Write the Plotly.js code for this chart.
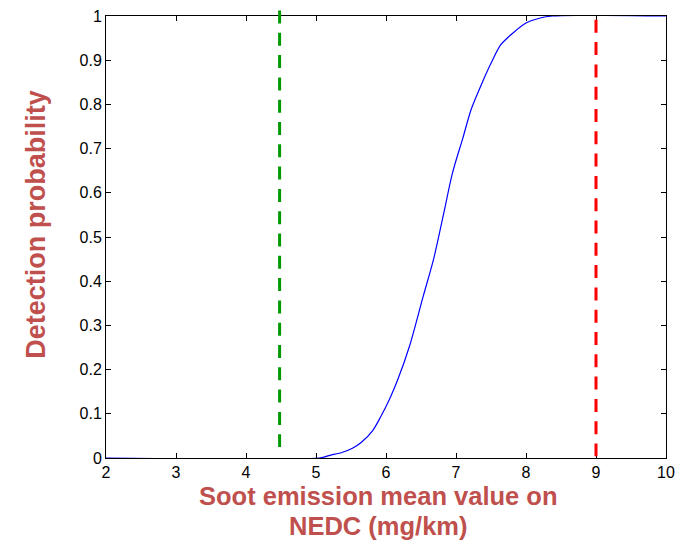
<!DOCTYPE html>
<html>
<head>
<meta charset="utf-8">
<script src="https://cdn.plot.ly/plotly-3.0.1.min.js"></script>
<style>html,body{margin:0;padding:0;background:#fff;}#chart{width:681px;height:540px;}</style>
</head>
<body>
<div id="chart"></div>
<script>
// Detection probability curve
const sootX = [2, 5.05, 5.2, 5.38, 5.52, 5.645, 5.81, 5.93, 6.05, 6.17, 6.34, 6.53, 6.68, 6.82, 6.95, 7.10, 7.215, 7.36, 7.50, 7.64, 7.81, 8.0, 8.19, 8.38, 10];
const detProb = [0, 0, 0.006, 0.013, 0.022, 0.035, 0.062, 0.095, 0.133, 0.178, 0.255, 0.365, 0.45, 0.55, 0.645, 0.725, 0.788, 0.844, 0.893, 0.935, 0.961, 0.984, 0.995, 1.0, 1.0];
// Vertical dashed reference lines
const refX = [4.48, 9];
const refColors = ["#009900", "#ff0000"];
const refTop = [1.0124, 0.9914];
const refBottom = [0.025, 0.004];
// Axis ticks
const xTicks = [2, 3, 4, 5, 6, 7, 8, 9, 10];
const yTicks = [0, 0.1, 0.2, 0.3, 0.4, 0.5, 0.6, 0.7, 0.8, 0.9, 1];
const yTickText = ["0", "0.1", "0.2", "0.3", "0.4", "0.5", "0.6", "0.7", "0.8", "0.9", "1"];
const xTitleLines = ["Soot emission mean value on", "NEDC (mg/km)"];
const yTitle = "Detection probability";

const traces = [{
  x: sootX, y: detProb, type: "scatter", mode: "lines",
  line: {color: "#0000ff", width: 1.2, shape: "spline", smoothing: 0.8},
  hoverinfo: "skip"
}];

const shapes = refX.map((xv, i) => ({
  type: "line", xref: "x", yref: "paper",
  x0: xv, x1: xv, y0: refTop[i], y1: refBottom[i],
  line: {color: refColors[i], width: 3, dash: "13px,9.3px"}
}));

const axisFont = {family: "'Liberation Sans', Arial, sans-serif", size: 16, color: "#000"};
const titleFont = {family: "'Liberation Sans', Arial, sans-serif", size: 25.5, color: "#c0504d", weight: "bold"};
const layout = {
  width: 681, height: 540,
  margin: {l: 106, r: 15, t: 15.5, b: 81.5},
  paper_bgcolor: "#fff", plot_bgcolor: "#fff",
  showlegend: false,
  xaxis: {
    range: [2, 10], tickvals: xTicks, ticktext: xTicks.map(String),
    ticks: "inside", ticklen: 5, tickcolor: "#000", tickwidth: 1,
    showline: true, linecolor: "#000", linewidth: 1, mirror: "allticks",
    showgrid: false, zeroline: false, tickfont: axisFont
  },
  yaxis: {
    range: [0, 1], tickvals: yTicks, ticktext: yTickText,
    ticks: "inside", ticklen: 5, tickcolor: "#000", tickwidth: 1,
    showline: true, linecolor: "#000", linewidth: 1, mirror: "allticks",
    showgrid: false, zeroline: false, tickfont: axisFont
  },
  shapes: shapes,
  annotations: [
    {text: xTitleLines[0], xref: "paper", yref: "paper", x: 0.4866, y: -0.0869, xanchor: "center", yanchor: "middle",
     showarrow: false, font: titleFont},
    {text: xTitleLines[1], xref: "paper", yref: "paper", x: 0.4866, y: -0.1546, xanchor: "center", yanchor: "middle",
     showarrow: false, font: titleFont},
    {text: yTitle, xref: "paper", yref: "paper", x: -0.1248, y: 0.528, xanchor: "center", yanchor: "middle",
     textangle: -90, showarrow: false,
     font: Object.assign({}, titleFont, {size: 27})}
  ]
};

Plotly.newPlot("chart", traces, layout, {displayModeBar: false, staticPlot: true});
</script>
</body>
</html>
